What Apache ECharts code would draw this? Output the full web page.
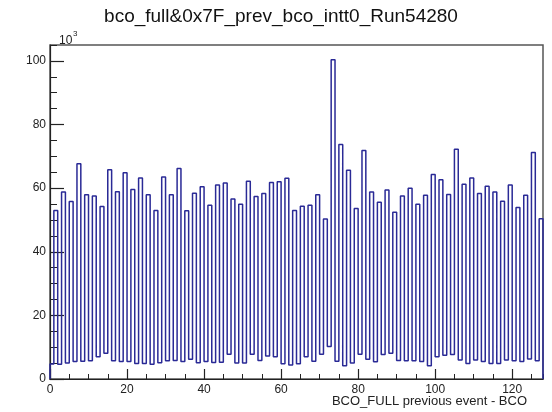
<!DOCTYPE html>
<html>
<head>
<meta charset="utf-8">
<script src="https://cdn.jsdelivr.net/npm/echarts@6/dist/echarts.min.js"></script>
<style>html,body{margin:0;padding:0;background:#fff}#c{width:552px;height:412px}</style>
</head>
<body>
<div id="c"></div>
<script>
// Histogram: 128 bins on [0,128); values in units of 10^3 entries
const chartTitle = "bco_full&0x7F_prev_bco_intt0_Run54280";
const xTitle = "BCO_FULL previous event - BCO";
const yMultiplier = "10";
const yMultiplierExp = "3";
const xTickLabels = [0, 20, 40, 60, 80, 100, 120];
const yTickLabels = [0, 20, 40, 60, 80, 100];
// even bins (0,2,...,126)
const lowBins = [
  4.7, 4.6, 5.0, 5.5, 5.6, 5.7, 7.0, 8.1, 5.7, 5.5, 5.5, 4.9, 4.9, 4.6, 5.1, 5.7, 5.8, 5.5, 6.2, 5.1,
  5.5, 5.2, 5.3, 7.8, 5.0, 5.0, 7.8, 5.8, 7.2, 7.0, 4.8, 4.4, 4.8, 7.0, 5.6, 7.8, 10.2, 5.6, 4.2, 5.0, 7.8, 6.2,
  5.4, 7.7, 8.1, 5.8, 5.7, 5.7, 5.5, 4.2, 7.0, 7.5, 7.7, 6.0, 4.9, 6.0, 5.5, 4.9, 4.9, 6.0, 5.7, 5.5, 6.3, 5.7
];
// odd bins (1,3,...,127)
const highBins = [
  53.0, 58.8, 55.8, 67.7, 57.9, 57.5, 54.2, 65.8, 58.9, 64.8, 59.6, 63.2, 57.9, 53.0, 63.5, 57.9,
  66.2, 52.9, 58.4, 60.4, 54.6, 61.0, 61.6, 56.6, 54.9, 62.2, 57.4, 58.3, 61.8, 62.0, 63.1, 53.0,
  54.3, 54.6, 57.9, 50.3, 100.4, 73.7, 65.6, 53.6, 71.8, 58.8, 55.6, 59.4, 52.4, 57.5, 60.0, 54.9, 57.8,
  64.3, 62.6, 58.0, 72.2, 61.2, 63.2, 58.3, 60.6, 58.8, 55.9, 61.0, 53.9, 57.8, 71.2, 50.4
];

const counts = [];
for (let i = 0; i < lowBins.length; i++) { counts.push(lowBins[i]); counts.push(highBins[i]); }
const nBins = counts.length;
// step outline points (bin low edges)
const stepData = [[0, 0]];
for (let i = 0; i < nBins; i++) stepData.push([i, counts[i]]);
stepData.push([nBins, counts[nBins - 1]]);
stepData.push([nBins, 0]);

const FONT = "Liberation Sans, Arial, sans-serif";
const chart = echarts.init(document.getElementById('c'), null, {renderer: 'canvas'});
const axisCol = '#222';
chart.setOption({
  animation: false,
  backgroundColor: '#fff',
  grid: {left: 50, right: 9, top: 45, bottom: 33, show: true, borderColor: '#555', borderWidth: 1.5, backgroundColor: 'transparent'},
  xAxis: [
    {type: 'value', min: 0, max: 128, interval: 20, position: 'bottom',
     axisLine: {show: true, onZero: false, lineStyle: {color: axisCol, width: 1.2}},
     axisTick: {show: true, inside: true, length: 10, lineStyle: {color: axisCol, width: 1.2}},
     axisLabel: {show: true, margin: 5, color: axisCol, fontSize: 12, fontFamily: FONT, showMaxLabel: false,
       formatter: v => xTickLabels.indexOf(v) >= 0 ? String(v) : ''},
     splitLine: {show: false}},
    {type: 'value', min: 0, max: 128, interval: 5, position: 'bottom',
     axisLine: {show: false},
     axisTick: {show: true, inside: true, length: 5, lineStyle: {color: axisCol, width: 1}},
     axisLabel: {show: false}, splitLine: {show: false}}
  ],
  yAxis: [
    {type: 'value', min: 0, max: 105, interval: 20, position: 'left',
     axisLine: {show: true, onZero: false, lineStyle: {color: axisCol, width: 1.2}},
     axisTick: {show: true, inside: true, length: 14, lineStyle: {color: axisCol, width: 1.2}},
     axisLabel: {show: true, margin: 4, color: axisCol, fontSize: 12, fontFamily: FONT, showMaxLabel: false,
       formatter: v => yTickLabels.indexOf(v) >= 0 ? String(v) : ''},
     splitLine: {show: false}},
    {type: 'value', min: 0, max: 105, interval: 5, position: 'left',
     axisLine: {show: false},
     axisTick: {show: true, inside: true, length: 7, lineStyle: {color: axisCol, width: 1}},
     axisLabel: {show: false}, splitLine: {show: false}}
  ],
  series: [{
    type: 'line', xAxisIndex: 0, yAxisIndex: 0, step: 'end', data: stepData,
    symbol: 'none', lineStyle: {color: '#2a2a96', width: 1.5}, z: 3
  }],
  graphic: [
    {type: 'text', x: 281, y: 17, style: {text: chartTitle, font: '19px ' + FONT, fill: '#111', textAlign: 'center', textVerticalAlign: 'middle'}},
    {type: 'text', x: 59, y: 35, style: {text: yMultiplier, font: '12px ' + FONT, fill: axisCol}},
    {type: 'text', x: 73, y: 30, style: {text: yMultiplierExp, font: '8px ' + FONT, fill: axisCol}},
    {type: 'text', x: 527, y: 401, style: {text: xTitle, font: '13px ' + FONT, fill: axisCol, textAlign: 'right', textVerticalAlign: 'middle'}}
  ]
});
</script>
</body>
</html>
